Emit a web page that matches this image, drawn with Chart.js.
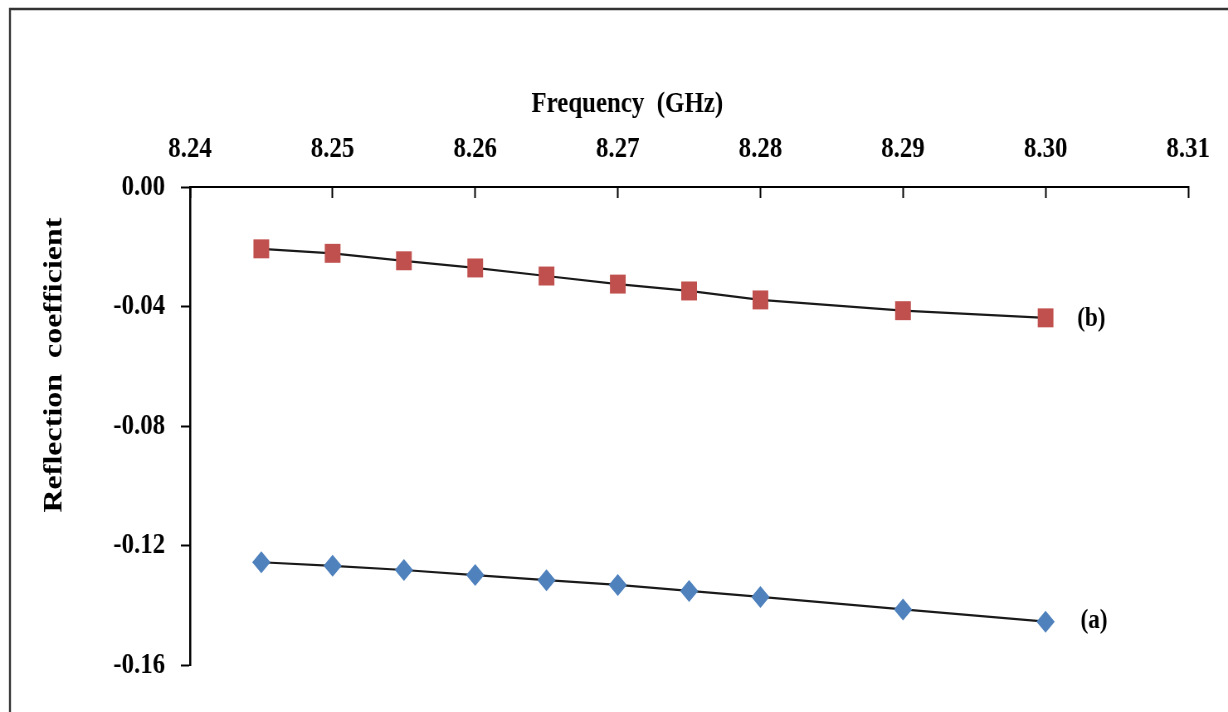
<!DOCTYPE html>
<html>
<head>
<meta charset="utf-8">
<script src="https://cdn.jsdelivr.net/npm/chart.js@4"></script>
<style>
  body { margin: 0; background: #fff; }
</style>
</head>
<body>
<!-- the reference is squeezed sideways, so the canvas is drawn wide and shown at 1228px -->
<canvas id="myChart" width="1480" height="712" style="width:1228px;height:712px"></canvas>
<script>
const frequency = [8.245, 8.25, 8.255, 8.26, 8.265, 8.27, 8.275, 8.28, 8.29, 8.30];
const curveA = [-0.1256, -0.1268, -0.1282, -0.1299, -0.1316, -0.1332, -0.1352, -0.1372, -0.1414, -0.1455];
const curveB = [-0.0207, -0.0222, -0.0247, -0.0271, -0.0298, -0.0325, -0.0348, -0.0378, -0.0414, -0.0438];
const xTicks = [8.24, 8.25, 8.26, 8.27, 8.28, 8.29, 8.30, 8.31];
const yTicks = [0, -0.04, -0.08, -0.12, -0.16];
const curveLabels = ['(a)', '(b)'];

const ctx = document.getElementById('myChart');
const serif = 'Liberation Serif, Times New Roman, serif';

function points(ys) {
  return frequency.map((f, i) => ({ x: f, y: ys[i] }));
}

// frame, axis titles and the (a)/(b) tags
const extras = {
  id: 'extras',
  afterDraw(chart) {
    const c = chart.ctx;
    const xs = chart.scales.x, ys = chart.scales.y;
    c.save();
    c.strokeStyle = '#333';
    c.lineWidth = 2.4;
    c.beginPath();
    c.moveTo(12, 712);
    c.lineTo(12, 9);
    c.lineTo(1480, 9);
    c.stroke();

    c.fillStyle = '#000';
    c.textAlign = 'center';
    c.textBaseline = 'middle';
    c.font = 'bold 30px ' + serif;
    c.fillText('Frequency  (GHz)', 756, 104);

    c.save();
    c.translate(66, 365);
    c.rotate(-Math.PI / 2);
    c.font = 'bold 32px ' + serif;
    c.fillText('Reflection  coefficient', 0, 0);
    c.restore();

    c.textAlign = 'left';
    c.font = 'bold 28px ' + serif;
    const last = frequency.length - 1;
    const xEnd = xs.getPixelForValue(frequency[last]);
    c.fillText(curveLabels[0], xEnd + 42, ys.getPixelForValue(curveA[last]) - 1);
    c.fillText(curveLabels[1], xEnd + 38, ys.getPixelForValue(curveB[last]) + 1);
    c.restore();
  }
};

const tickFont = { family: serif, size: 30, weight: 'bold' };

new Chart(ctx, {
  type: 'line',
  data: {
    datasets: [{
      label: '(a)',
      data: points(curveA),
      borderColor: '#1a1a1a',
      borderWidth: 2.2,
      pointStyle: 'rectRot',
      pointRadius: 11,
      pointBackgroundColor: '#4F81BD',
      pointBorderColor: '#4F81BD',
      pointBorderWidth: 0
    }, {
      label: '(b)',
      data: points(curveB),
      borderColor: '#1a1a1a',
      borderWidth: 2.2,
      pointStyle: 'rect',
      pointRadius: 13.4,
      pointBackgroundColor: '#C0504D',
      pointBorderColor: '#C0504D',
      pointBorderWidth: 0
    }]
  },
  options: {
    responsive: false,
    animation: false,
    layout: { padding: { left: 0, top: 0, right: 48, bottom: 47 } },
    plugins: {
      legend: { display: false },
      tooltip: { enabled: false }
    },
    scales: {
      x: {
        type: 'linear',
        position: 'top',
        min: 8.24,
        max: 8.31,
        afterBuildTicks: s => { s.ticks = xTicks.map(v => ({ value: v })); },
        afterFit: s => {
          s.height = 187;
          s.paddingLeft = 0;
          s.paddingRight = 0;
        },
        ticks: {
          color: '#000',
          font: tickFont,
          padding: 31,
          maxRotation: 0,
          callback: v => v.toFixed(2)
        },
        grid: {
          drawOnChartArea: false,
          tickLength: -11,
          tickColor: '#000',
          tickWidth: 2
        },
        border: { color: '#000', width: 2 }
      },
      y: {
        min: -0.16,
        max: 0,
        afterBuildTicks: s => { s.ticks = yTicks.map(v => ({ value: v })); },
        afterFit: s => { s.width = 229; },
        ticks: {
          color: '#000',
          font: tickFont,
          padding: 19,
          callback: v => v.toFixed(2)
        },
        grid: {
          drawOnChartArea: false,
          tickLength: 11,
          tickColor: '#000',
          tickWidth: 2
        },
        border: { color: '#000', width: 2.5 }
      }
    }
  },
  plugins: [extras]
});
</script>
</body>
</html>
